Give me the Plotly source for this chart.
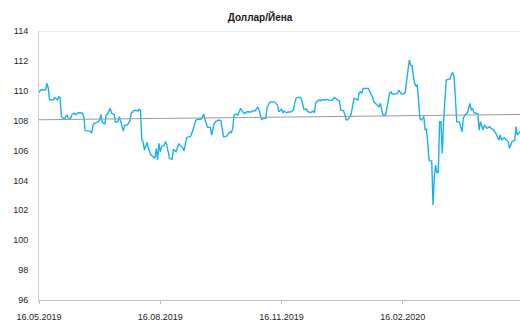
import numpy as np
import pandas as pd
import plotly.graph_objects as go

dates = [
    "2019-05-16", "2019-05-17", "2019-05-21", "2019-05-22", "2019-05-23", "2019-05-24", "2019-05-27", "2019-05-28",
    "2019-05-30", "2019-05-31", "2019-06-01", "2019-06-02", "2019-06-03", "2019-06-04", "2019-06-06", "2019-06-07",
    "2019-06-09", "2019-06-10", "2019-06-12", "2019-06-13", "2019-06-15", "2019-06-17", "2019-06-18", "2019-06-19",
    "2019-06-20", "2019-06-24", "2019-06-25", "2019-06-26", "2019-06-27", "2019-06-30", "2019-07-01", "2019-07-02",
    "2019-07-03", "2019-07-05", "2019-07-06", "2019-07-07", "2019-07-09", "2019-07-10", "2019-07-12", "2019-07-13",
    "2019-07-15", "2019-07-16", "2019-07-17", "2019-07-19", "2019-07-20", "2019-07-22", "2019-07-24", "2019-07-25",
    "2019-07-27", "2019-07-28", "2019-07-30", "2019-07-31", "2019-08-01", "2019-08-02", "2019-08-03", "2019-08-04",
    "2019-08-06", "2019-08-07", "2019-08-09", "2019-08-10", "2019-08-12", "2019-08-13", "2019-08-14", "2019-08-15",
    "2019-08-16", "2019-08-17", "2019-08-19", "2019-08-20", "2019-08-21", "2019-08-23", "2019-08-25", "2019-08-26",
    "2019-08-28", "2019-08-30", "2019-09-01", "2019-09-02", "2019-09-03", "2019-09-05", "2019-09-07", "2019-09-08",
    "2019-09-10", "2019-09-12", "2019-09-14", "2019-09-16", "2019-09-18", "2019-09-19", "2019-09-21", "2019-09-23",
    "2019-09-24", "2019-09-26", "2019-09-27", "2019-09-29", "2019-10-01", "2019-10-02", "2019-10-03", "2019-10-05",
    "2019-10-06", "2019-10-08", "2019-10-09", "2019-10-10", "2019-10-11", "2019-10-13", "2019-10-14", "2019-10-16",
    "2019-10-18", "2019-10-19", "2019-10-21", "2019-10-24", "2019-10-25", "2019-10-27", "2019-10-29", "2019-10-30",
    "2019-11-01", "2019-11-02", "2019-11-04", "2019-11-05", "2019-11-07", "2019-11-09", "2019-11-11", "2019-11-13",
    "2019-11-14", "2019-11-16", "2019-11-17", "2019-11-18", "2019-11-20", "2019-11-21", "2019-11-23", "2019-11-25",
    "2019-11-26", "2019-11-27", "2019-11-28", "2019-11-30", "2019-12-01", "2019-12-03", "2019-12-05", "2019-12-06",
    "2019-12-08", "2019-12-10", "2019-12-11", "2019-12-12", "2019-12-14", "2019-12-16", "2019-12-17", "2019-12-19",
    "2019-12-21", "2019-12-23", "2019-12-25", "2019-12-26", "2019-12-28", "2019-12-30", "2019-12-31", "2020-01-02",
    "2020-01-03", "2020-01-04", "2020-01-05", "2020-01-07", "2020-01-08", "2020-01-09", "2020-01-10", "2020-01-12",
    "2020-01-13", "2020-01-14", "2020-01-15", "2020-01-16", "2020-01-17", "2020-01-19", "2020-01-21", "2020-01-22",
    "2020-01-24", "2020-01-25", "2020-01-26", "2020-01-28", "2020-01-29", "2020-01-30", "2020-01-31", "2020-02-01",
    "2020-02-03", "2020-02-04", "2020-02-06", "2020-02-07", "2020-02-08", "2020-02-10", "2020-02-12", "2020-02-13",
    "2020-02-14", "2020-02-15", "2020-02-17", "2020-02-18", "2020-02-20", "2020-02-21", "2020-02-22", "2020-02-23",
    "2020-02-24", "2020-02-25", "2020-02-26", "2020-02-27", "2020-02-28", "2020-02-29", "2020-03-01", "2020-03-03",
    "2020-03-04", "2020-03-05", "2020-03-06", "2020-03-07", "2020-03-08", "2020-03-09", "2020-03-10", "2020-03-11",
    "2020-03-12", "2020-03-13", "2020-03-14", "2020-03-15", "2020-03-16", "2020-03-17", "2020-03-18", "2020-03-19",
    "2020-03-20", "2020-03-22", "2020-03-23", "2020-03-24", "2020-03-25", "2020-03-26", "2020-03-28", "2020-03-29",
    "2020-03-30", "2020-04-01", "2020-04-02", "2020-04-04", "2020-04-05", "2020-04-07", "2020-04-08", "2020-04-09",
    "2020-04-10", "2020-04-12", "2020-04-13", "2020-04-14", "2020-04-15", "2020-04-17", "2020-04-18", "2020-04-20",
    "2020-04-22", "2020-04-23", "2020-04-25", "2020-04-27", "2020-04-29", "2020-04-30", "2020-05-01", "2020-05-03",
    "2020-05-04", "2020-05-06", "2020-05-07", "2020-05-08", "2020-05-09", "2020-05-11", "2020-05-12", "2020-05-13",
    "2020-05-15",
]

usd_jpy = [
    109.87, 110.05, 110.05, 110.5, 110.2, 109.4, 109.4, 109.55,
    109.4, 109.6, 109.55, 108.27, 108.2, 108.05, 108.4, 108.2,
    108.15, 108.4, 108.5, 108.4, 108.55, 108.55, 108.5, 108.27,
    107.33, 107.3, 107.15, 107.7, 107.82, 107.93, 108.05, 108.42,
    107.86, 107.78, 108.4, 108.45, 108.83, 108.5, 108.4, 107.9,
    107.93, 108.27, 107.95, 107.3, 107.7, 107.7, 107.98, 108.5,
    108.67, 108.7, 108.65, 108.76, 108.7, 106.7, 106.6, 106.03,
    106.55, 106.15, 105.7, 105.63, 105.48, 106.15, 105.37, 106.48,
    105.92, 106.26, 106.37, 106.6, 106.37, 105.48, 105.41, 106.08,
    105.92, 106.44, 106.3, 106.2, 105.97, 106.86, 106.93, 106.93,
    107.42, 108.04, 108.09, 108.09, 108.44, 108.04, 107.55, 107.55,
    107.04, 107.82, 107.93, 108.04, 108.0, 107.37, 106.93, 106.93,
    107.04, 107.26, 107.2, 107.49, 108.38, 108.44, 108.38, 108.83,
    108.53, 108.49, 108.6, 108.58, 108.67, 108.65, 108.93, 108.71,
    108.04, 108.15, 108.15, 108.83, 109.23, 109.27, 109.23, 109.05,
    108.6, 108.76, 108.53, 108.64, 108.53, 108.58, 108.58, 108.71,
    109.16, 109.49, 109.56, 109.56, 109.5, 108.76, 108.76, 108.6,
    108.53, 108.64, 108.53, 109.2, 109.38, 109.34, 109.42, 109.38,
    109.42, 109.34, 109.38, 109.56, 109.42, 109.3, 108.71, 108.67,
    108.44, 108.09, 108.04, 108.27, 108.49, 109.16, 109.49, 109.42,
    109.38, 109.87, 109.94, 109.83, 110.16, 110.16, 110.16, 109.94,
    109.6, 109.27, 109.2, 109.05, 108.93, 109.16, 108.83, 108.38,
    108.38, 108.93, 109.83, 109.94, 109.78, 109.78, 109.83, 110.05,
    109.87, 109.78, 109.8, 109.94, 111.39, 112.06, 111.72, 111.7,
    111.05, 110.5, 110.32, 110.38, 109.38, 108.16, 108.04, 108.27,
    107.37, 107.45, 106.48, 105.37, 105.3, 105.3, 102.35, 104.25,
    105.03, 104.52, 104.55, 107.93, 107.93, 105.81, 107.93, 109.6,
    110.72, 110.77, 110.8, 111.12, 111.2, 110.94, 107.93, 107.93,
    107.9, 107.26, 108.16, 108.49, 108.49, 109.16, 108.71, 108.82,
    108.53, 108.49, 108.45, 107.37, 107.93, 107.37, 107.71, 107.49,
    107.6, 107.49, 107.37, 107.1, 106.7, 107.04, 106.7, 106.88,
    106.8, 106.6, 106.15, 106.37, 106.6, 106.7, 107.6, 107.04,
    107.26,
]

tick_dates = ["2019-05-16", "2019-08-16", "2019-11-16", "2020-02-16"]
tick_labels = ["16.05.2019", "16.08.2019", "16.11.2019", "16.02.2020"]

x = pd.to_datetime(dates)
days = (x - x[0]).days.values
k, b = np.polyfit(days, usd_jpy, 1)
trend_days = np.array([0, 365])
trend_x = x[0] + pd.to_timedelta(trend_days, unit="D")
trend_y = k * trend_days + b

fig = go.Figure()
fig.add_trace(go.Scatter(x=x, y=usd_jpy, mode="lines",
                         line=dict(color="#19b2ee", width=1.4), hoverinfo="x+y"))
fig.add_trace(go.Scatter(x=trend_x, y=trend_y, mode="lines",
                         line=dict(color="#9a9a9a", width=1)))

fig.add_shape(type="line", xref="paper", yref="y", x0=0, x1=1, y0=114, y1=114,
              line=dict(color="#d9d9d9", width=1))

fig.update_layout(
    width=520, height=321,
    margin=dict(l=39, r=0, t=31, b=21),
    paper_bgcolor="white", plot_bgcolor="white",
    showlegend=False,
    font=dict(family="Liberation Sans, Arial", size=9, color="#404040"),
    title=dict(text="<b>Доллар/Йена</b>", x=0.5, xanchor="center", y=0.945, yanchor="middle",
               font=dict(size=10, color="#1a1a1a")),
    xaxis=dict(
        range=["2019-05-16", "2020-05-15"],
        tickvals=tick_dates, ticktext=tick_labels,
        showgrid=False, zeroline=False,
        showline=True, linecolor="#bfbfbf", linewidth=1,
        ticks="outside", ticklen=3, tickcolor="#bfbfbf",
        ticklabelstandoff=5,
        tickfont=dict(color="#262626"),
    ),
    yaxis=dict(
        range=[96, 114], dtick=2,
        showgrid=False, zeroline=False,
        showline=True, linecolor="#d0d0d0", linewidth=1,
        ticks="", ticklabelstandoff=8,
        tickfont=dict(color="#262626"),
    ),
)

# page body has a default 8px margin, drop it so the chart fills the window
fig.write_html("out.html", config={"displayModeBar": False},
               post_script="document.body.style.margin='0';")
